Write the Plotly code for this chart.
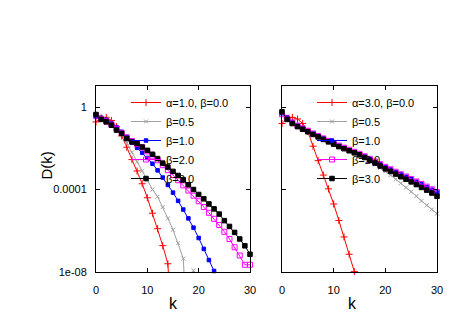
import numpy as np
import plotly.graph_objects as go

# k values shared by every curve
k = list(range(31))

# left panel (alpha = 1.0), log10 D(k); None = no data (D = 0)
left_b00 = [-0.72, -0.52, -0.50, -0.65, -0.95, -1.40, -1.95, -2.55, -3.10, -3.72, -4.40,
            -5.15, -5.90, -6.72, -7.60, -12.0] + [None] * 15
left_b05 = [-0.50, -0.50, -0.60, -0.78, -1.00, -1.30, -1.75, -2.20, -2.65, -3.10, -3.55,
            -4.00, -4.35, -4.85, -5.40, -5.95, -6.60, -7.35, -12.0, -7.92] + [None] * 11
left_b10 = [-0.47, -0.52, -0.62, -0.78, -0.98, -1.20, -1.45, -1.72, -1.98, -2.22, -2.47,
            -2.75, -3.07, -3.42, -3.78, -4.15, -4.55, -4.97, -5.40, -5.85, -6.35,
            -6.88, -7.42, -7.95] + [None] * 7
left_b20 = [-0.42, -0.58, -0.70, -0.85, -1.05, -1.25, -1.47, -1.65, -1.80, -1.96, -2.15,
            -2.36, -2.58, -2.82, -3.06, -3.30, -3.55, -3.80, -4.05, -4.30, -4.57,
            -4.85, -5.13, -5.42, -5.72, -6.05, -6.40, -6.80, -7.20, -7.65, -7.65]
left_b30 = [-0.36, -0.60, -0.72, -0.88, -1.12, -1.28, -1.53, -1.69, -1.77, -1.94, -2.10,
            -2.29, -2.50, -2.72, -2.91, -3.12, -3.32, -3.53, -3.77, -4.00, -4.24,
            -4.45, -4.70, -4.94, -5.19, -5.51, -5.79, -6.08, -6.40, -6.73, -7.14]

# right panel (alpha = 3.0)
right_b00 = [-0.80, -0.55, -0.50, -0.58, -0.80, -1.18, -1.90, -2.60, -3.30, -3.97, -4.70,
             -5.50, -6.30, -7.14, -7.98] + [None] * 16
right_b05 = [-0.30, -0.45, -0.75, -0.93, -1.07, -1.19, -1.32, -1.44, -1.56, -1.68, -1.79,
             -1.91, -2.01, -2.11, -2.21, -2.31, -2.45, -2.62, -2.78, -2.95, -3.12,
             -3.30, -3.50, -3.70, -3.90, -4.10, -4.32, -4.55, -4.77, -4.97, -5.17]
right_b10 = [-0.30, -0.50, -0.72, -0.90, -1.04, -1.16, -1.29, -1.41, -1.53, -1.65, -1.76,
             -1.88, -1.98, -2.08, -2.18, -2.28, -2.40, -2.52, -2.65, -2.78, -2.91,
             -3.03, -3.15, -3.27, -3.38, -3.50, -3.62, -3.75, -3.88, -4.01, -4.15]
right_b20 = [-0.35, -0.56, -0.76, -0.90, -1.03, -1.15, -1.28, -1.40, -1.52, -1.64, -1.75,
             -1.87, -1.97, -2.07, -2.17, -2.27, -2.39, -2.51, -2.64, -2.77, -2.90,
             -3.02, -3.14, -3.26, -3.37, -3.49, -3.61, -3.73, -3.86, -3.99, -4.13]
right_b30 = [-0.23, -0.60, -0.80, -0.95, -1.08, -1.20, -1.33, -1.45, -1.57, -1.69, -1.80,
             -1.92, -2.02, -2.12, -2.22, -2.32, -2.45, -2.58, -2.72, -2.86, -3.00,
             -3.12, -3.25, -3.38, -3.50, -3.63, -3.76, -3.90, -4.03, -4.17, -4.33]

names_left = ['α=1.0, β=0.0', 'β=0.5', 'β=1.0', 'β=2.0', 'β=3.0']
names_right = ['α=3.0, β=0.0', 'β=0.5', 'β=1.0', 'β=2.0', 'β=3.0']

ytick_vals = [1, 1e-4, 1e-8]
ytick_text = ['1', '0.0001', '1e-08']
xtick_vals = [0, 10, 20, 30]

# gnuplot-like styles: colour, marker symbol, marker size
styles = [
    ('#ff0000', 'cross-thin-open', 5),
    ('#a0a0a0', 'x-thin-open', 4),
    ('#0000ff', 'square', 3.5),
    ('#ff00ff', 'square-open', 5),
    ('#000000', 'square', 4.5),
]


def to_d(logs):
    return [None if v is None else 10 ** v for v in logs]


# the page body has an 8px margin, so the figure is shrunk by that and
# positions below are worked out in page pixels
OFF = 8
W, H = 467 - OFF, 327 - OFF


def px(x):
    return (x - OFF) / W


def py(y):
    return (327 - y) / H


fig = go.Figure()
font = 'Liberation Sans, Arial, sans-serif'

panels = [
    ([left_b00, left_b05, left_b10, left_b20, left_b30], names_left, 'x', 'y', 'legend'),
    ([right_b00, right_b05, right_b10, right_b20, right_b30], names_right, 'x2', 'y2', 'legend2'),
]
for series, names, xa, ya, leg in panels:
    for logs, name, (color, sym, size) in zip(series, names, styles):
        fig.add_trace(go.Scatter(
            x=k, y=to_d(logs), name=name, mode='lines+markers',
            xaxis=xa, yaxis=ya, legend=leg, connectgaps=False, cliponaxis=False,
            line=dict(color=color, width=1),
            marker=dict(symbol=sym, size=size, color=color, line=dict(color=color, width=1)),
        ))

axis_common = dict(showline=True, linecolor='#000000', linewidth=1, mirror='ticks',
                   ticks='inside', ticklen=4, tickcolor='#000000', showgrid=False,
                   zeroline=False, automargin=False,
                   tickfont=dict(family=font, size=11, color='#000000'))

fig.update_layout(
    width=W, height=H,
    margin=dict(l=0, r=0, t=0, b=0, autoexpand=False),
    paper_bgcolor='white', plot_bgcolor='white',
    font=dict(family=font, size=11, color='#000000'),
    xaxis=dict(domain=[px(96), px(250)], range=[0, 30], tickvals=xtick_vals,
               ticklabelstandoff=8, anchor='y', **axis_common),
    yaxis=dict(domain=[py(272), py(86)], type='log', range=[-8, 1.02],
               tickvals=ytick_vals, ticktext=ytick_text, ticklabelstandoff=6,
               anchor='x', **axis_common),
    xaxis2=dict(domain=[px(282), px(437)], range=[0, 30], tickvals=xtick_vals,
                ticklabelstandoff=8, anchor='y2', **axis_common),
    yaxis2=dict(domain=[py(272), py(86)], type='log', range=[-8, 1.02],
                tickvals=ytick_vals, showticklabels=False, anchor='x2', **axis_common),
    legend=dict(x=px(234), y=py(88), xanchor='right', yanchor='top',
                bgcolor='rgba(0,0,0,0)', font=dict(family=font, size=11),
                itemwidth=30, tracegroupgap=0),
    legend2=dict(x=px(420), y=py(88), xanchor='right', yanchor='top',
                 bgcolor='rgba(0,0,0,0)', font=dict(family=font, size=11),
                 itemwidth=30, tracegroupgap=0),
    annotations=[
        dict(text='D(k)', x=px(35), y=py(166), xref='paper', yref='paper',
             showarrow=False, textangle=-90, font=dict(family=font, size=15)),
        dict(text='k', x=px(173), y=py(314), xref='paper', yref='paper',
             showarrow=False, font=dict(family=font, size=16)),
        dict(text='k', x=px(359), y=py(314), xref='paper', yref='paper',
             showarrow=False, font=dict(family=font, size=16)),
    ],
)

fig.write_html("out.html")
